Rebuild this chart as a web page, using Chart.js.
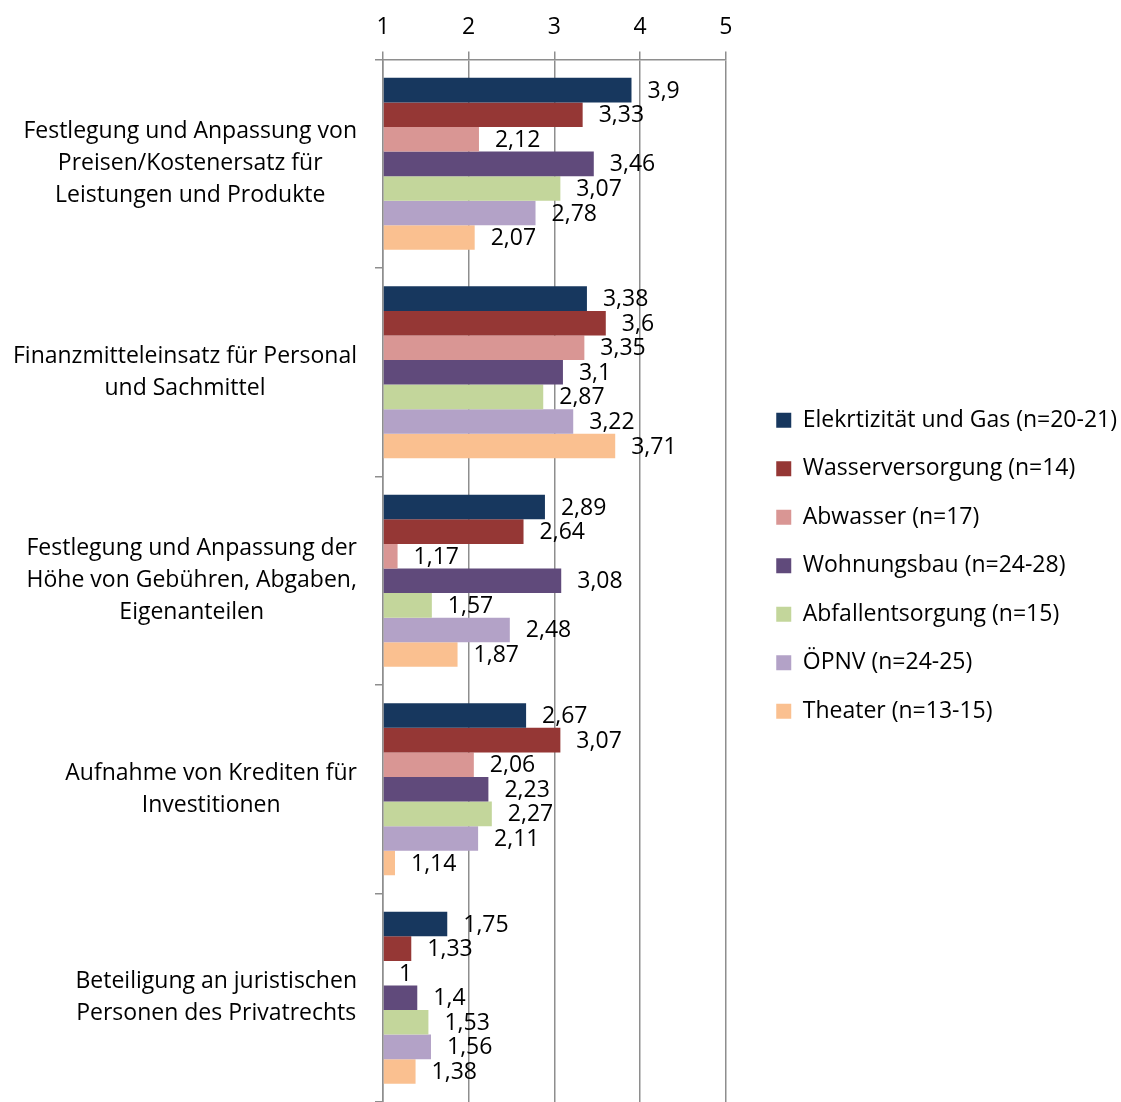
<!DOCTYPE html>
<html>
<head>
<meta charset="utf-8">
<script src="https://cdn.jsdelivr.net/npm/chart.js@4"></script>
<style>
  html, body { margin: 0; padding: 0; background: #fff; overflow: hidden; }
  canvas { display: block; }
</style>
</head>
<body>
<canvas id="chart" width="1121" height="1102"></canvas>
<script>
const categories = [
    ['Festlegung und Anpassung von', 'Preisen/Kostenersatz für', 'Leistungen und Produkte'],
    ['Finanzmitteleinsatz für Personal', 'und Sachmittel'],
    ['Festlegung und Anpassung der', 'Höhe von Gebühren, Abgaben,', 'Eigenanteilen'],
    ['Aufnahme von Krediten für', 'Investitionen'],
    ['Beteiligung an juristischen', 'Personen des Privatrechts']
];

const seriesNames = [
    'Elekrtizität und Gas (n=20-21)',
    'Wasserversorgung (n=14)',
    'Abwasser (n=17)',
    'Wohnungsbau (n=24-28)',
    'Abfallentsorgung (n=15)',
    'ÖPNV (n=24-25)',
    'Theater (n=13-15)'
];

const elektrizitaet = [3.9, 3.38, 2.89, 2.67, 1.75];
const wasser = [3.33, 3.6, 2.64, 3.07, 1.33];
const abwasser = [2.12, 3.35, 1.17, 2.06, 1];
const wohnungsbau = [3.46, 3.1, 3.08, 2.23, 1.4];
const abfall = [3.07, 2.87, 1.57, 2.27, 1.53];
const oepnv = [2.78, 3.22, 2.48, 2.11, 1.56];
const theater = [2.07, 3.71, 1.87, 1.14, 1.38];

const tickValues = [1, 2, 3, 4, 5];

const colors = ['#17375e', '#953735', '#d99694', '#604a7b', '#c3d69b', '#b3a2c7', '#fac090'];
const FONT = 'Open Sans';
const SIZE = 23;
const LINE = 32;

const values = [elektrizitaet, wasser, abwasser, wohnungsbau, abfall, oepnv, theater];

// value labels right of each bar, German decimal comma
const barLabels = {
    id: 'barLabels',
    afterDatasetsDraw(chart) {
        const ctx = chart.ctx;
        ctx.save();
        ctx.font = `${SIZE}px "${FONT}"`;
        ctx.fillStyle = '#000';
        ctx.textAlign = 'left';
        ctx.textBaseline = 'middle';
        chart.data.datasets.forEach((ds, i) => {
            chart.getDatasetMeta(i).data.forEach((bar, j) => {
                const txt = String(ds.data[j]).replace('.', ',');
                ctx.fillText(txt, bar.x + 16, bar.y + 1);
            });
        });
        ctx.restore();
    }
};

// category labels: each block right-aligned to the axis, its lines centred within the block
const categoryLabels = {
    id: 'categoryLabels',
    afterDraw(chart) {
        const ctx = chart.ctx;
        const y = chart.scales.y;
        ctx.save();
        ctx.font = `${SIZE}px "${FONT}"`;
        ctx.fillStyle = '#000';
        ctx.textAlign = 'center';
        ctx.textBaseline = 'middle';
        categories.forEach((lines, i) => {
            const widest = Math.max(...lines.map(l => ctx.measureText(l).width));
            const cx = y.right - 26 - widest / 2;
            const cy = y.getPixelForTick(i);
            lines.forEach((l, k) => {
                ctx.fillText(l, cx, cy + (k - (lines.length - 1) / 2) * LINE);
            });
        });
        ctx.restore();
    }
};

new Chart(document.getElementById('chart'), {
    type: 'bar',
    data: {
        labels: categories,
        datasets: seriesNames.map((name, i) => ({
            label: name,
            data: values[i],
            backgroundColor: colors[i],
            borderWidth: 0,
            base: 1,
            categoryPercentage: 0.825,
            barPercentage: 1
        }))
    },
    options: {
        indexAxis: 'y',
        responsive: false,
        animation: false,
        layout: { padding: { top: 4, right: -6, bottom: 0, left: 0 } },
        plugins: {
            tooltip: { enabled: false },
            legend: {
                position: 'right',
                align: 'start',
                maxWidth: 420,
                title: {
                    display: true,
                    text: ' ',
                    font: { size: 1 },
                    padding: { top: 0, bottom: 378 }
                },
                labels: {
                    font: { family: FONT, size: SIZE },
                    color: '#000',
                    boxWidth: 15,
                    boxHeight: 15,
                    padding: 25.5
                }
            }
        },
        scales: {
            x: {
                position: 'top',
                min: 1,
                max: 5,
                afterBuildTicks(axis) {
                    axis.ticks = tickValues.map(v => ({ value: v }));
                },
                ticks: {
                    font: { family: FONT, size: SIZE },
                    color: '#000',
                    padding: 10
                },
                grid: {
                    color: '#8e8e8e',
                    lineWidth: 1.5,
                    tickLength: 8
                },
                border: { color: '#8e8e8e', width: 1.5 }
            },
            y: {
                afterFit(axis) {
                    axis.width = 383;
                    axis.paddingTop = 0;
                    axis.paddingBottom = 0;
                },
                ticks: { display: false },
                grid: {
                    drawOnChartArea: false,
                    color: '#8e8e8e',
                    lineWidth: 1.5,
                    tickLength: 8
                },
                border: { color: '#8e8e8e', width: 1.5 }
            },
            // empty spacer between plot and legend
            gap: {
                type: 'linear',
                axis: 'y',
                position: 'right',
                ticks: { display: false },
                grid: { display: false, drawTicks: false },
                border: { display: false },
                afterFit(axis) {
                    axis.width = 25;
                    axis.paddingTop = 0;
                    axis.paddingBottom = 0;
                }
            }
        }
    },
    plugins: [barLabels, categoryLabels]
});
</script>
</body>
</html>
